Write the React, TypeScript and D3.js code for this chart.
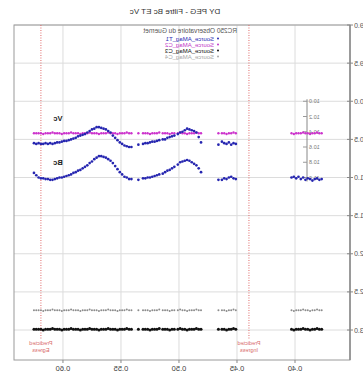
import React from 'react';
import * as d3 from 'd3';

// ---- data (phase in days, magnitudes) ----
const phase = [
  0.377, 0.379, 0.381, 0.383, 0.385, 0.387, 0.389, 0.391, 0.393, 0.395, 0.397, 0.399, 0.401, 0.403,
  0.451, 0.453, 0.455, 0.457, 0.459, 0.461, 0.463, 0.466,
  0.481, 0.483, 0.485, 0.487, 0.489, 0.491, 0.493, 0.495, 0.497, 0.499, 0.501, 0.504, 0.506,
  0.508, 0.510, 0.512, 0.514, 0.517, 0.519, 0.521, 0.523, 0.525, 0.527, 0.529, 0.531, 0.535,
  0.541, 0.543, 0.545, 0.547, 0.549, 0.551, 0.553, 0.555, 0.557, 0.559, 0.561, 0.563, 0.565,
  0.567, 0.569, 0.571, 0.573, 0.575, 0.577, 0.579, 0.581, 0.583, 0.585, 0.587, 0.589, 0.591,
  0.593, 0.595, 0.597, 0.599, 0.601, 0.603, 0.605, 0.607, 0.609, 0.611, 0.613, 0.615, 0.617,
  0.619, 0.621, 0.623, 0.625,
];

const vcMag: (number | null)[] = [
  null, null, null, null, null, null, null, null, null, null, null, null, null, null,
  10.56, 10.55, 10.57, 10.54, 10.56, 10.55, 10.53, 10.57,
  10.54, 10.47, 10.41, 10.39, 10.38, 10.37, 10.36, 10.38, 10.40, 10.41, 10.43, 10.45, 10.46,
  10.47, 10.48, 10.50, 10.50, 10.51, 10.52, 10.53, 10.53, 10.54, 10.55, 10.55, 10.56, 10.57,
  10.60, 10.60, 10.59, 10.58, 10.56, 10.54, 10.51, 10.48, 10.45, 10.41, 10.39, 10.37, 10.36,
  10.35, 10.34, 10.34, 10.36, 10.37, 10.39, 10.41, 10.43, 10.44, 10.45, 10.46, 10.48, 10.49,
  10.50, 10.51, 10.52, 10.52, 10.53, 10.54, 10.54, 10.55, 10.56, 10.55, 10.56, 10.55, 10.56,
  10.56, 10.55, 10.56, 10.55,
];

const bcMag: (number | null)[] = [
  11.02, 11.03, 11.01, 11.02, 11.04, 11.02, 11.01, 11.03, 11.00, 11.02, 10.99, 11.01, 10.99, 11.00,
  11.02, 11.01, 10.99, 11.00, 11.02, 11.01, 11.03, 11.03,
  10.93, 10.88, 10.84, 10.82, 10.80, 10.78, 10.77, 10.78, 10.79, 10.80, 10.83, 10.86, 10.88,
  10.90, 10.91, 10.93, 10.95, 10.96, 10.97, 10.98, 10.99, 11.00, 11.00, 11.01, 11.01, 11.03,
  11.02, 11.02, 11.00, 10.99, 10.96, 10.93, 10.89, 10.85, 10.81, 10.78, 10.76, 10.74, 10.73,
  10.72, 10.72, 10.74, 10.76, 10.79, 10.81, 10.84, 10.86, 10.88, 10.90, 10.91, 10.93, 10.94,
  10.96, 10.97, 10.98, 10.99, 11.00, 11.00, 11.01, 11.02, 11.03, 11.03, 11.02, 11.02, 11.01,
  11.01, 11.00, 10.97, 10.94,
];

const c2Mag = [
  10.42, 10.42, 10.41, 10.42, 10.42, 10.43, 10.42, 10.42, 10.41, 10.42, 10.42, 10.42, 10.43, 10.42,
  10.42, 10.41, 10.42, 10.42, 10.43, 10.42, 10.42, 10.42,
  10.42, 10.42, 10.41, 10.42, 10.42, 10.42, 10.43, 10.42, 10.42, 10.41, 10.42, 10.42, 10.42,
  10.43, 10.42, 10.42, 10.42, 10.41, 10.42, 10.42, 10.42, 10.43, 10.42, 10.42, 10.42, 10.42,
  10.42, 10.42, 10.41, 10.42, 10.42, 10.42, 10.43, 10.42, 10.42, 10.42, 10.41, 10.42, 10.42,
  10.42, 10.43, 10.42, 10.42, 10.42, 10.41, 10.42, 10.42, 10.42, 10.43, 10.42, 10.42, 10.42,
  10.41, 10.42, 10.42, 10.42, 10.43, 10.42, 10.42, 10.42, 10.41, 10.42, 10.42, 10.42, 10.43,
  10.42, 10.42, 10.42, 10.42,
];

const c3Mag = [
  12.99, 12.99, 12.98, 12.99, 12.99, 13.00, 12.99, 12.99, 12.98, 12.99, 12.99, 12.99, 13.00, 12.99,
  12.99, 12.98, 12.99, 12.99, 13.00, 12.99, 12.99, 12.99,
  12.99, 12.99, 12.98, 12.99, 12.99, 12.99, 13.00, 12.99, 12.99, 12.98, 12.99, 12.99, 12.99,
  13.00, 12.99, 12.99, 12.99, 12.98, 12.99, 12.99, 12.99, 13.00, 12.99, 12.99, 12.99, 12.99,
  12.99, 12.99, 12.98, 12.99, 12.99, 12.99, 13.00, 12.99, 12.99, 12.99, 12.98, 12.99, 12.99,
  12.99, 13.00, 12.99, 12.99, 12.99, 12.98, 12.99, 12.99, 12.99, 13.00, 12.99, 12.99, 12.99,
  12.98, 12.99, 12.99, 12.99, 13.00, 12.99, 12.99, 12.99, 12.98, 12.99, 12.99, 12.99, 13.00,
  12.99, 12.99, 12.99, 12.99,
];

const c4Mag = [
  12.74, 12.74, 12.73, 12.74, 12.74, 12.75, 12.74, 12.74, 12.73, 12.74, 12.74, 12.74, 12.75, 12.74,
  12.74, 12.73, 12.74, 12.74, 12.75, 12.74, 12.74, 12.74,
  12.74, 12.74, 12.73, 12.74, 12.74, 12.74, 12.75, 12.74, 12.74, 12.73, 12.74, 12.74, 12.74,
  12.75, 12.74, 12.74, 12.74, 12.73, 12.74, 12.74, 12.74, 12.75, 12.74, 12.74, 12.74, 12.74,
  12.74, 12.74, 12.73, 12.74, 12.74, 12.74, 12.75, 12.74, 12.74, 12.74, 12.73, 12.74, 12.74,
  12.74, 12.75, 12.74, 12.74, 12.74, 12.73, 12.74, 12.74, 12.74, 12.75, 12.74, 12.74, 12.74,
  12.73, 12.74, 12.74, 12.74, 12.75, 12.74, 12.74, 12.74, 12.73, 12.74, 12.74, 12.74, 12.75,
  12.74, 12.74, 12.74, 12.74,
];

const xTicks = [0.4, 0.45, 0.5, 0.55, 0.6];
const xTickLabels = ['0.40', '0.45', '0.50', '0.55', '0.60'];
const yTicks = [9.0, 9.5, 10.0, 10.5, 11.0, 11.5, 12.0, 12.5, 13.0];
const yTickLabels = ['9.0', '9.5', '10.0', '10.5', '11.0', '11.5', '12.0', '12.5', '13.0'];
const insetTicks = [10.0, 10.2, 10.4, 10.6, 10.8, 11.0];
const insetLabels = ['10.0', '10.2', '10.4', '10.6', '10.8', '11.0'];
const legendNames = ['Source_AMag_T1', 'Source_AMag_C2', 'Source_AMag_C3', 'Source_AMag_C4'];
const legendColors = ['#2a2ab4', '#c238c8', '#111111', '#a8a8a8'];
const predictedNames = ['Ingress', 'Egress'];
const predictedTimes = [0.4397, 0.619];
const curveNames = ['Vc', 'Bc'];
const curveLabelPhase = [0.6043, 0.6043];
const curveLabelMag = [10.26, 10.84];

const W = 363;
const H = 376;
const left = 13, right = 349, top = 25, bottom = 360;

export default function App() {
  const x = d3.scaleLinear().domain([0.3526, 0.6422]).range([left, right]);
  const y = d3.scaleLinear().domain([9.0, 13.393]).range([top, bottom]);

  const series = [
    { vals: c4Mag, color: '#8c8c8c', r: 1.0 },
    { vals: c3Mag, color: '#111111', r: 1.5 },
    { vals: c2Mag, color: '#cc33cc', r: 1.2 },
    { vals: bcMag, color: '#2626b0', r: 1.35 },
    { vals: vcMag, color: '#2626b0', r: 1.35 },
  ];

  const font = 'Liberation Sans, Arial, sans-serif';
  const insetX = 56;

  return (
    <svg width={W} height={H} style={{ position: 'absolute', left: 0, top: 0, background: '#fff' }}
      fontFamily={font}>
      <rect x={0} y={0} width={W} height={H} fill="#fff" />
      <g transform={`translate(${W},0) scale(-1,1)`}>
        {/* grid */}
        {xTicks.map((t, i) => (
          <line key={'gx' + i} x1={x(t)} x2={x(t)} y1={top} y2={bottom} stroke="#dcdcdc" strokeWidth={1} />
        ))}
        {yTicks.map((t, i) => (
          <line key={'gy' + i} x1={left} x2={right} y1={y(t)} y2={y(t)} stroke="#dcdcdc" strokeWidth={1} />
        ))}
        {/* frame */}
        <rect x={left} y={top} width={right - left} height={bottom - top} fill="none" stroke="#9a9a9a" strokeWidth={1} />
        <line x1={left} x2={left} y1={top} y2={bottom} stroke="#8a8a8a" strokeWidth={1.5} />
        {/* y ticks + labels */}
        {yTicks.map((t, i) => (
          <g key={'yt' + i}>
            <line x1={left - 3} x2={left + 3} y1={y(t)} y2={y(t)} stroke="#888" />
            <text x={left - 4} y={y(t) + 2.5} fontSize={7} fill="#555" textAnchor="end">{yTickLabels[i]}</text>
          </g>
        ))}
        {/* x ticks + labels */}
        {xTicks.map((t, i) => (
          <g key={'xt' + i}>
            <line x1={x(t)} x2={x(t)} y1={bottom} y2={bottom + 3} stroke="#888" />
            <text x={x(t)} y={371} fontSize={7.5} fill="#444" textAnchor="middle">{xTickLabels[i]}</text>
          </g>
        ))}
        {/* inset axis */}
        <line x1={insetX} x2={insetX} y1={y(insetTicks[0]) - 2} y2={y(insetTicks[insetTicks.length - 1]) + 4} stroke="#888" />
        {insetTicks.map((t, i) => (
          <g key={'it' + i}>
            <line x1={insetX} x2={insetX + 4} y1={y(t)} y2={y(t)} stroke="#999" />
            <text x={insetX - 2} y={y(t) + 2} fontSize={5.5} fill="#777" textAnchor="end">{insetLabels[i]}</text>
          </g>
        ))}
        {/* predicted lines */}
        {predictedTimes.map((t, i) => (
          <g key={'pr' + i}>
            <line x1={x(t)} x2={x(t)} y1={top} y2={339} stroke="#e06a6a" strokeWidth={1} strokeDasharray="1,1.5" />
            <text x={x(t)} y={345} fontSize={5.5} fill="#d86a6a" textAnchor="middle">Predicted</text>
            <text x={x(t)} y={352} fontSize={5.5} fill="#d86a6a" textAnchor="middle">{predictedNames[i]}</text>
          </g>
        ))}
        {/* data */}
        {series.map((s, si) => (
          <g key={'s' + si} fill={s.color}>
            {phase.map((p, i) => {
              const v = s.vals[i];
              if (v == null) return null;
              return <circle key={i} cx={x(p)} cy={y(v)} r={s.r} />;
            })}
          </g>
        ))}
        {/* curve labels */}
        {curveNames.map((n, i) => (
          <text key={'cl' + i} x={x(curveLabelPhase[i])} y={y(curveLabelMag[i])} fontSize={7.5} fontWeight="bold" fill="#222" textAnchor="middle">{n}</text>
        ))}
        {/* title */}
        <text x={188} y={14} fontSize={8} fill="#333" textAnchor="middle">DY PEG - Filtre Bc ET Vc</text>
        {/* legend */}
        <text x={126} y={33} fontSize={6.5} fill="#555">RC250 Observatoire du Guernet</text>
        {legendNames.map((n, i) => (
          <g key={'lg' + i}>
            <circle cx={145} cy={38.5 + i * 6} r={1} fill={legendColors[i]} />
            <text x={149} y={40.5 + i * 6} fontSize={6} fill={legendColors[i]}>{n}</text>
          </g>
        ))}
      </g>
    </svg>
  );
}
